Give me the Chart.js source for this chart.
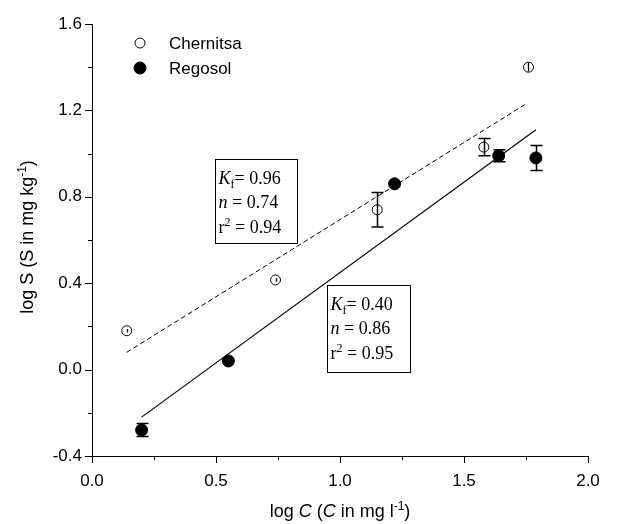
<!DOCTYPE html>
<html>
<head>
<meta charset="utf-8">
<script src="https://cdn.jsdelivr.net/npm/chart.js@4/dist/chart.umd.min.js"></script>
<style>
  body { margin: 0; background: #fff; }
  #wrap { width: 617px; height: 524px; }
</style>
</head>
<body>
<div id="wrap"><canvas id="chart" width="617" height="524"></canvas></div>
<script>
// measured data (log C, log S)
var chernitsaX = [0.14, 0.74, 1.15, 1.58, 1.76];
var chernitsaY = [0.18, 0.415, 0.74, 1.03, 1.40];
var chernitsaErr = [0.008, 0.008, 0.08, 0.04, 0.02];

var regosolX = [0.20, 0.55, 1.22, 1.64, 1.79];
var regosolY = [-0.28, 0.04, 0.86, 0.99, 0.98];
var regosolErr = [0.03, 0, 0, 0.028, 0.058];

// fitted lines (end points)
var chernitsaFitX = [0.14, 1.75];
var chernitsaFitY = [0.08, 1.23];
var regosolFitX = [0.20, 1.79];
var regosolFitY = [-0.22, 1.11];

// Freundlich parameters
var fitKf = ['0.96', '0.40'];
var fitN = ['0.74', '0.86'];
var fitR2 = ['0.94', '0.95'];

var xMajor = [0.0, 0.5, 1.0, 1.5, 2.0];
var yMajor = [-0.4, 0.0, 0.4, 0.8, 1.2, 1.6];

var SANS = '"Liberation Sans", Arial, sans-serif';
var SERIF = '"Liberation Serif", "Times New Roman", serif';

function pts(xs, ys) {
  return xs.map(function (x, i) { return { x: x, y: ys[i] }; });
}

function isMajor(list, v) {
  return list.some(function (m) { return Math.abs(m - v) < 1e-6; });
}

// draw a run of text pieces [{t, font, dy}] starting at x (or centred)
function drawRuns(ctx, runs, x, y, center) {
  var total = 0;
  runs.forEach(function (r) { ctx.font = r.font; total += ctx.measureText(r.t).width; });
  var cx = center ? x - total / 2 : x;
  runs.forEach(function (r) {
    ctx.font = r.font;
    ctx.fillText(r.t, cx, y + (r.dy || 0));
    cx += ctx.measureText(r.t).width;
  });
}

var decor = {
  id: 'decor',
  afterDatasetsDraw: function (chart) {
    var ctx = chart.ctx;
    var xs = chart.scales.x, ys = chart.scales.y;
    ctx.save();
    ctx.strokeStyle = '#000';
    ctx.fillStyle = '#000';
    ctx.lineWidth = 1;

    // error bars (caps only when the bar sticks out of the marker)
    [[chernitsaX, chernitsaY, chernitsaErr], [regosolX, regosolY, regosolErr]].forEach(function (s) {
      s[0].forEach(function (x, i) {
        if (!s[2][i]) return;
        var px = Math.round(xs.getPixelForValue(x)) + 0.5;
        var top = ys.getPixelForValue(s[1][i] + s[2][i]);
        var bot = ys.getPixelForValue(s[1][i] - s[2][i]);
        var caps = s[2][i] > 0.025;
        ctx.beginPath();
        ctx.moveTo(px, top); ctx.lineTo(px, bot);
        if (caps) {
          ctx.moveTo(px - 6, top); ctx.lineTo(px + 6, top);
          ctx.moveTo(px - 6, bot); ctx.lineTo(px + 6, bot);
        }
        ctx.lineWidth = caps ? 1.5 : 1.3;
        ctx.stroke();
      });
    });
    ctx.lineWidth = 1;

    // axis ticks, major and minor, outside
    var bx = xs.top, ly = ys.right;
    ctx.beginPath();
    xs.ticks.forEach(function (t) {
      var p = Math.round(xs.getPixelForValue(t.value)) + 0.5;
      var len = isMajor(xMajor, t.value) ? 7 : 4;
      ctx.moveTo(p, bx); ctx.lineTo(p, bx + len);
    });
    ys.ticks.forEach(function (t) {
      var p = Math.round(ys.getPixelForValue(t.value)) + 0.5;
      var len = isMajor(yMajor, t.value) ? 7 : 4;
      ctx.moveTo(ly, p); ctx.lineTo(ly - len, p);
    });
    ctx.stroke();

    // legend
    var legend = [['Chernitsa', '#fff', 5], ['Regosol', '#000', 6]];
    legend.forEach(function (l, i) {
      var y = 43 + i * 25;
      ctx.beginPath();
      ctx.arc(140, y, l[2], 0, Math.PI * 2);
      ctx.fillStyle = l[1];
      ctx.fill();
      ctx.stroke();
      ctx.fillStyle = '#000';
      ctx.font = '17px ' + SANS;
      ctx.textBaseline = 'middle';
      ctx.textAlign = 'left';
      ctx.fillText(l[0], 169, y + 1);
    });

    // parameter boxes, anchored at data coords of their top-left corner
    var boxes = [{ x: 0.495, y: 0.975, w: 82, h: 84, k: 0 }, { x: 0.948, y: 0.393, w: 83, h: 87, k: 1 }];
    ctx.textBaseline = 'alphabetic';
    boxes.forEach(function (b) {
      var bx0 = Math.round(xs.getPixelForValue(b.x)) + 0.5;
      var by0 = Math.round(ys.getPixelForValue(b.y)) + 0.5;
      ctx.fillStyle = '#fff';
      ctx.fillRect(bx0, by0, b.w, b.h);
      ctx.strokeRect(bx0, by0, b.w, b.h);
      ctx.fillStyle = '#000';
      var f = '18px ' + SERIF, fi = 'italic 18px ' + SERIF, fs = '12px ' + SERIF;
      var tx = bx0 + 3;
      drawRuns(ctx, [{ t: 'K', font: fi }, { t: 'f', font: fs, dy: 4 }, { t: '= ' + fitKf[b.k], font: f }], tx, by0 + 24, false);
      drawRuns(ctx, [{ t: 'n', font: fi }, { t: ' = ' + fitN[b.k], font: f }], tx, by0 + 48, false);
      drawRuns(ctx, [{ t: 'r', font: f }, { t: '2', font: fs, dy: -7 }, { t: ' = ' + fitR2[b.k], font: f }], tx, by0 + 73, false);
    });

    // axis titles
    var n = '18px ' + SANS, it = 'italic 18px ' + SANS, sup = '12px ' + SANS;
    ctx.textAlign = 'left';
    ctx.textBaseline = 'alphabetic';
    var cx = (chart.chartArea.left + chart.chartArea.right) / 2;
    drawRuns(ctx, [
      { t: 'log ', font: n }, { t: 'C', font: it }, { t: ' (', font: n }, { t: 'C', font: it },
      { t: ' in mg l', font: n }, { t: '-1', font: sup, dy: -7 }, { t: ')', font: n }
    ], cx, 517, true);

    ctx.translate(33, (chart.chartArea.top + chart.chartArea.bottom) / 2 - 3);
    ctx.rotate(-Math.PI / 2);
    drawRuns(ctx, [
      { t: 'log S (S in mg kg', font: n }, { t: '-1', font: sup, dy: -7 }, { t: ')', font: n }
    ], 0, 0, true);
    ctx.restore();
  }
};

var ctx = document.getElementById('chart').getContext('2d');
var chart = new Chart(ctx, {
  type: 'scatter',
  data: {
    datasets: [
      {
        label: 'Chernitsa fit', type: 'line', data: pts(chernitsaFitX, chernitsaFitY),
        borderColor: '#000', borderWidth: 1, borderDash: [5, 3], pointRadius: 0, fill: false
      },
      {
        label: 'Regosol fit', type: 'line', data: pts(regosolFitX, regosolFitY),
        borderColor: '#000', borderWidth: 1.2, pointRadius: 0, fill: false
      },
      {
        label: 'Chernitsa', data: pts(chernitsaX, chernitsaY),
        pointRadius: 5, pointBackgroundColor: '#fff', pointBorderColor: '#000', pointBorderWidth: 1
      },
      {
        label: 'Regosol', data: pts(regosolX, regosolY),
        pointRadius: 6, pointBackgroundColor: '#000', pointBorderColor: '#000', pointBorderWidth: 1
      }
    ]
  },
  options: {
    responsive: false,
    animation: false,
    layout: { padding: { top: 24, right: 29, left: 0, bottom: 0 } },
    plugins: { legend: { display: false }, tooltip: { enabled: false } },
    scales: {
      x: {
        type: 'linear', min: 0, max: 2,
        ticks: {
          stepSize: 0.25, color: '#000', padding: 8, maxRotation: 0, autoSkip: false,
          font: { family: SANS, size: 17 },
          callback: function (v) { return isMajor(xMajor, v) ? v.toFixed(1) : ''; }
        },
        grid: { drawOnChartArea: false, color: 'rgba(0,0,0,0)', tickLength: 7 },
        border: { display: true, color: '#000', width: 1 },
        afterFit: function (s) { s.height = 68; }
      },
      y: {
        type: 'linear', min: -0.4, max: 1.6,
        ticks: {
          stepSize: 0.2, color: '#000', padding: 3, autoSkip: false,
          font: { family: SANS, size: 17 },
          callback: function (v) {
            if (!isMajor(yMajor, v)) return '';
            return Math.abs(v) < 1e-9 ? '0.0' : v.toFixed(1);
          }
        },
        grid: { drawOnChartArea: false, color: 'rgba(0,0,0,0)', tickLength: 7 },
        border: { display: true, color: '#000', width: 1 },
        afterFit: function (s) { s.width = 92; }
      }
    }
  },
  plugins: [decor]
});
</script>
</body>
</html>
